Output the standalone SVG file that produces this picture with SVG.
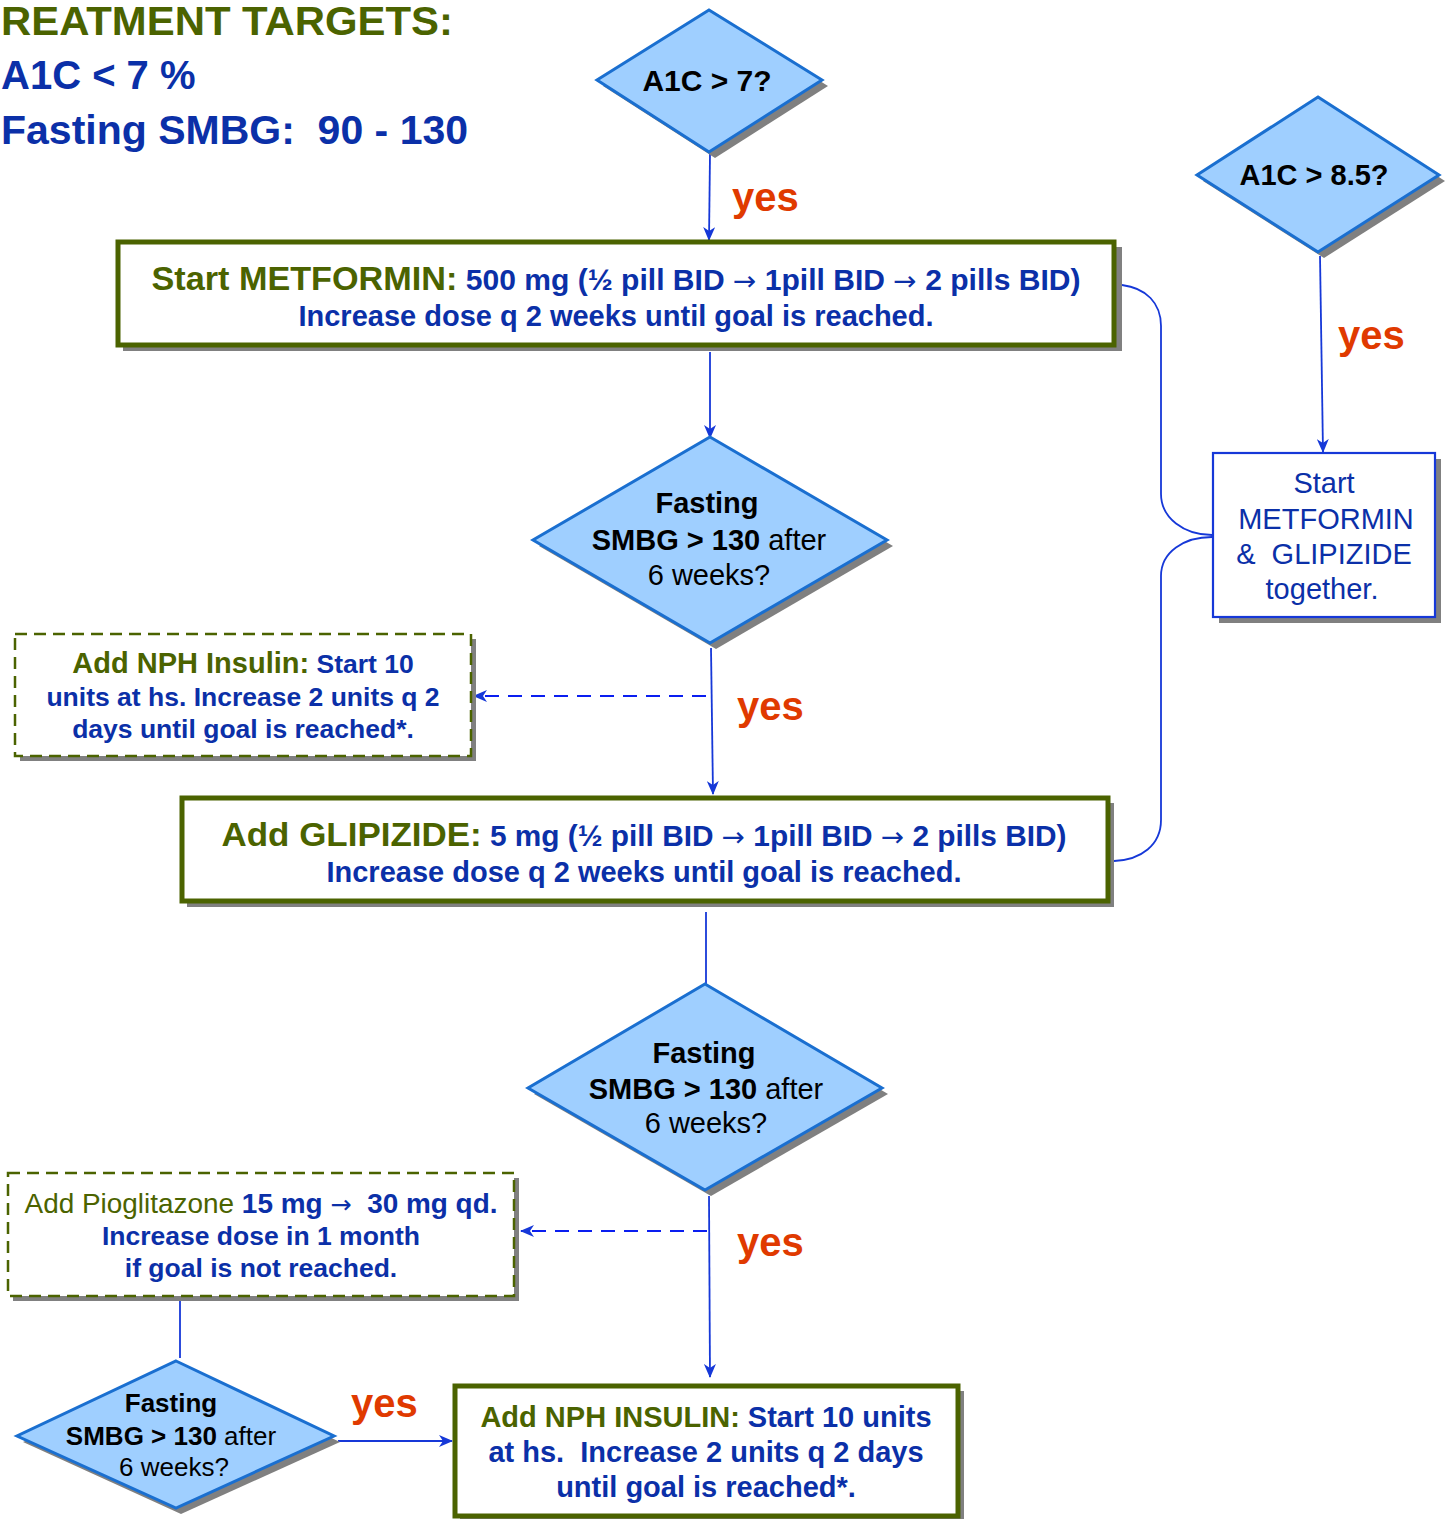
<svg xmlns="http://www.w3.org/2000/svg" width="1450" height="1519" viewBox="0 0 1450 1519">
<style>
text{font-family:"Liberation Sans",Arial,sans-serif}
.ar{font-family:"DejaVu Sans",sans-serif;font-weight:normal}
.dia{fill:#9FCFFF;stroke:#1A6FD0;stroke-width:3}
.sh{fill:#808080}
.box{fill:#fff;stroke:#4B6300;stroke-width:5}
.dbox{fill:#fff;stroke:#4B6300;stroke-width:2.5;stroke-dasharray:12 7}
.rbox{fill:#fff;stroke:#1638D8;stroke-width:2.2}
.conn{stroke:#1638D8;stroke-width:1.8;fill:none}
.dash{stroke:#0A1EF0;stroke-dasharray:14 9}
.g{fill:#4B6300}
.b{fill:#0B30A8}
.k{fill:#000}
.bd{font-weight:bold}
.yes{fill:#E03A00;font-weight:bold;font-size:40px}
</style>
<defs>
<marker id="ah" viewBox="0 0 14 12" refX="13" refY="6" markerWidth="14" markerHeight="12" markerUnits="userSpaceOnUse" orient="auto">
<path d="M0,0 L14,6 L0,12 L4,6 z" fill="#1638D8"/>
</marker>
</defs>

<g id="targets">
<text x="1" y="35" font-size="41" class="g bd" textLength="452" lengthAdjust="spacingAndGlyphs">REATMENT TARGETS:</text>
<text x="1" y="89" font-size="40" class="b bd">A1C &lt; 7 %</text>
<text x="1" y="144" font-size="41" class="b bd" xml:space="preserve">Fasting SMBG:  90 - 130</text>
</g>

<g id="connectors">
<line class="conn" x1="710" y1="154" x2="709" y2="240" marker-end="url(#ah)"/>
<line class="conn" x1="710" y1="352" x2="710" y2="438" marker-end="url(#ah)"/>
<line class="conn" x1="711" y1="648" x2="713" y2="794" marker-end="url(#ah)"/>
<line class="conn dash" x1="706" y1="696" x2="474" y2="696" marker-end="url(#ah)"/>
<line class="conn" x1="1320" y1="256" x2="1323" y2="452" marker-end="url(#ah)"/>
<path class="conn" d="M1122,285 C1146,288 1161,303 1161,326 L1161,494 C1161,518 1184,535 1212,535"/>
<path class="conn" d="M1212,537 C1184,537 1161,552 1161,576 L1161,820 C1161,845 1141,860 1114,861"/>
<line class="conn" x1="706" y1="912" x2="706" y2="984"/>
<line class="conn" x1="709" y1="1196" x2="710" y2="1377" marker-end="url(#ah)"/>
<line class="conn dash" x1="707" y1="1231" x2="521" y2="1231" marker-end="url(#ah)"/>
<line class="conn" x1="180" y1="1300" x2="180" y2="1358"/>
<line class="conn" x1="338" y1="1441" x2="452" y2="1441" marker-end="url(#ah)"/>
</g>

<g id="labels">
<text x="732" y="211" class="yes">yes</text>
<text x="1338" y="349" class="yes">yes</text>
<text x="737" y="720" class="yes">yes</text>
<text x="737" y="1256" class="yes">yes</text>
<text x="351" y="1417" class="yes">yes</text>
</g>

<g id="d-a1c7">
<polygon class="sh" points="715,16 828,86 715,158 603,86"/>
<polygon class="dia" points="709,10 822,80 709,152 597,80"/>
<text x="707" y="91" text-anchor="middle" font-size="30" class="k bd">A1C &gt; 7?</text>
</g>

<g id="d-a1c85">
<polygon class="sh" points="1324,103 1445,181 1324,258 1203,181"/>
<polygon class="dia" points="1318,97 1439,175 1318,252 1197,175"/>
<text x="1314" y="185" text-anchor="middle" font-size="29" class="k bd">A1C &gt; 8.5?</text>
</g>

<g id="b-metformin">
<rect class="sh" x="123" y="247" width="999" height="104"/>
<rect class="box" x="118" y="242" width="996" height="103"/>
<text x="616" y="290" text-anchor="middle" textLength="929" lengthAdjust="spacingAndGlyphs"><tspan class="g bd" font-size="33">Start METFORMIN:</tspan><tspan class="b bd" font-size="29"> 500 mg (½ pill BID </tspan><tspan class="b ar" font-size="27">→</tspan><tspan class="b bd" font-size="29"> 1pill BID </tspan><tspan class="b ar" font-size="27">→</tspan><tspan class="b bd" font-size="29"> 2 pills BID)</tspan></text>
<text x="616" y="326" text-anchor="middle" font-size="29" class="b bd">Increase dose q 2 weeks until goal is reached.</text>
</g>

<g id="b-combo">
<rect class="sh" x="1219" y="459" width="222" height="164"/>
<rect class="rbox" x="1213" y="453" width="222" height="164"/>
<text text-anchor="middle" font-size="29" class="b" xml:space="preserve"><tspan x="1324" y="493">Start</tspan><tspan x="1326" y="529">METFORMIN</tspan><tspan x="1324" y="564">&amp;  GLIPIZIDE</tspan><tspan x="1322" y="599">together.</tspan></text>
</g>

<g id="d-fasting1">
<polygon class="sh" points="716,443 893,546 716,649 539,546"/>
<polygon class="dia" points="710,437 887,540 710,643 533,540"/>
<text x="707" y="513" text-anchor="middle" font-size="29" class="k bd">Fasting</text>
<text x="709" y="550" text-anchor="middle" font-size="29" class="k"><tspan class="bd">SMBG &gt; 130</tspan> after</text>
<text x="709" y="585" text-anchor="middle" font-size="29" class="k">6 weeks?</text>
</g>

<g id="b-nph1">
<rect class="sh" x="20" y="639" width="456" height="122"/>
<rect class="dbox" x="15" y="634" width="456" height="122"/>
<text x="243" y="673" text-anchor="middle"><tspan class="g bd" font-size="29">Add NPH Insulin:</tspan><tspan class="b bd" font-size="26.5"> Start 10</tspan></text>
<text x="243" y="706" text-anchor="middle" font-size="26.5" class="b bd">units at hs. Increase 2 units q 2</text>
<text x="243" y="738" text-anchor="middle" font-size="26.5" class="b bd">days until goal is reached*.</text>
</g>

<g id="b-glipizide">
<rect class="sh" x="187" y="803" width="927" height="104"/>
<rect class="box" x="182" y="798" width="926" height="103"/>
<text x="644" y="846" text-anchor="middle" textLength="845" lengthAdjust="spacingAndGlyphs"><tspan class="g bd" font-size="34">Add GLIPIZIDE:</tspan><tspan class="b bd" font-size="29"> 5 mg (½ pill BID </tspan><tspan class="b ar" font-size="27">→</tspan><tspan class="b bd" font-size="29"> 1pill BID </tspan><tspan class="b ar" font-size="27">→</tspan><tspan class="b bd" font-size="29"> 2 pills BID)</tspan></text>
<text x="644" y="882" text-anchor="middle" font-size="29" class="b bd">Increase dose q 2 weeks until goal is reached.</text>
</g>

<g id="d-fasting2">
<polygon class="sh" points="711,990 888,1094 711,1196 534,1094"/>
<polygon class="dia" points="705,984 882,1088 705,1190 528,1088"/>
<text x="704" y="1063" text-anchor="middle" font-size="29" class="k bd">Fasting</text>
<text x="706" y="1099" text-anchor="middle" font-size="29" class="k"><tspan class="bd">SMBG &gt; 130</tspan> after</text>
<text x="706" y="1133" text-anchor="middle" font-size="29" class="k">6 weeks?</text>
</g>

<g id="b-pioglitazone">
<rect class="sh" x="13" y="1178" width="506" height="123"/>
<rect class="dbox" x="8" y="1173" width="506" height="123"/>
<text x="261" y="1213" text-anchor="middle" textLength="473" lengthAdjust="spacingAndGlyphs" xml:space="preserve"><tspan class="g" font-size="27.5">Add Pioglitazone</tspan><tspan class="b bd" font-size="27.5"> 15 mg </tspan><tspan class="b ar" font-size="25">→</tspan><tspan class="b bd" font-size="27.5">  30 mg qd.</tspan></text>
<text x="261" y="1245" text-anchor="middle" font-size="26.5" class="b bd">Increase dose in 1 month</text>
<text x="261" y="1277" text-anchor="middle" font-size="26.5" class="b bd">if goal is not reached.</text>
</g>

<g id="d-fasting3">
<polygon class="sh" points="181,1367 340,1442 181,1514 23,1442"/>
<polygon class="dia" points="176,1361 334,1436 176,1508 17,1436"/>
<text x="171" y="1412" text-anchor="middle" font-size="26" class="k bd">Fasting</text>
<text x="171" y="1445" text-anchor="middle" font-size="26" class="k"><tspan class="bd">SMBG &gt; 130</tspan> after</text>
<text x="174" y="1476" text-anchor="middle" font-size="26" class="k">6 weeks?</text>
</g>

<g id="b-nph2">
<rect class="sh" x="460" y="1391" width="504" height="131"/>
<rect class="box" x="455" y="1386" width="503" height="130"/>
<text x="706" y="1427" text-anchor="middle"><tspan class="g bd" font-size="29">Add NPH INSULIN:</tspan><tspan class="b bd" font-size="29"> Start 10 units</tspan></text>
<text x="706" y="1462" text-anchor="middle" font-size="29" class="b bd" xml:space="preserve">at hs.  Increase 2 units q 2 days</text>
<text x="706" y="1497" text-anchor="middle" font-size="29" class="b bd">until goal is reached*.</text>
</g>
</svg>
